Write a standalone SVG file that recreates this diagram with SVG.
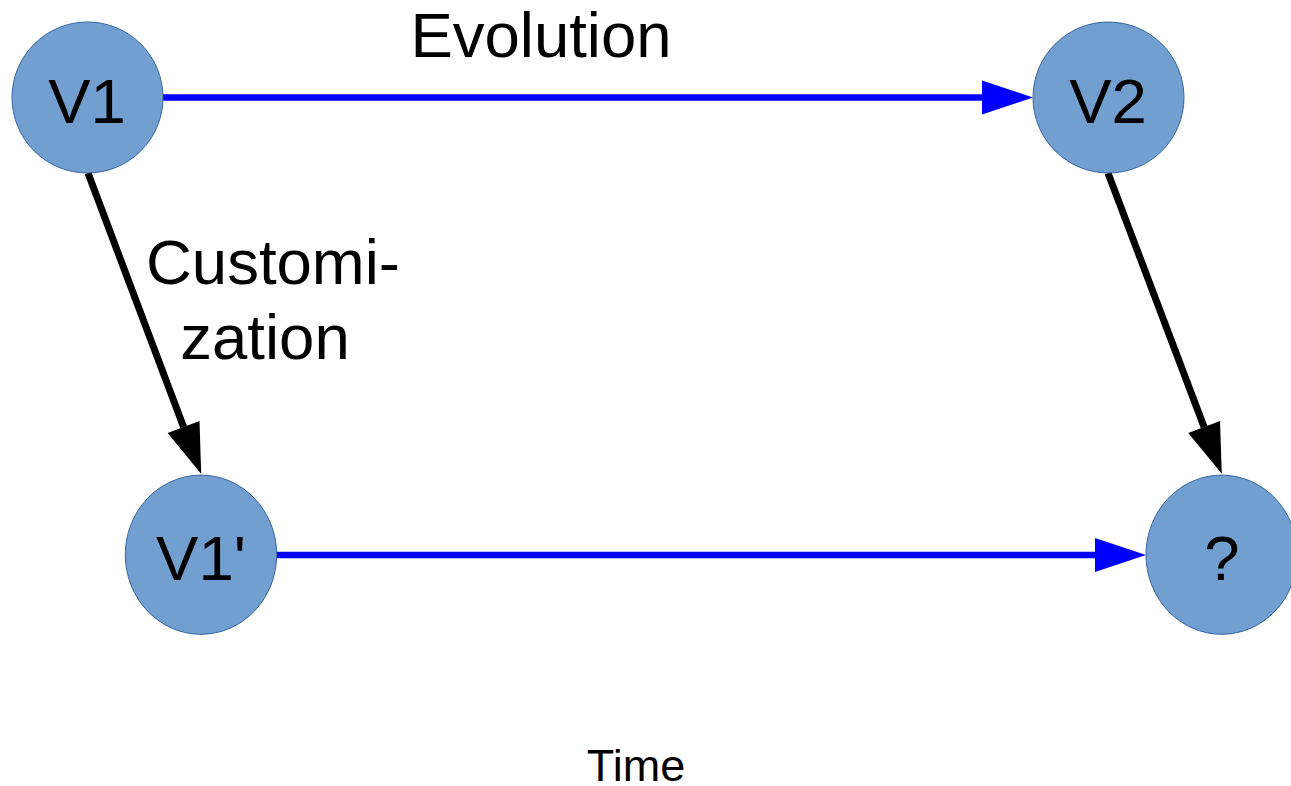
<svg xmlns="http://www.w3.org/2000/svg" width="1291" height="786" viewBox="0 0 1291 786">
<style>
.node{fill:#729fcf;stroke:#3465a4;stroke-width:1}
.lbl{font-family:"Liberation Sans",Arial,sans-serif;fill:#000;text-anchor:middle}
.big{font-size:63.5px}
.blue{stroke:#0000ff;stroke-width:6.5;fill:none}
.black{stroke:#000;stroke-width:7;fill:none}
</style>
<defs>
<marker id="ab" markerUnits="userSpaceOnUse" markerWidth="52" markerHeight="35" refX="0" refY="17" orient="auto" overflow="visible">
<path d="M0,0 L51,17 L0,34 z" fill="#0000ff"/>
</marker>
<marker id="ak" markerUnits="userSpaceOnUse" markerWidth="52" markerHeight="35" refX="0" refY="17" orient="auto" overflow="visible">
<path d="M0,0 L50,17 L0,34 z" fill="#000"/>
</marker>
</defs>
<rect width="1291" height="786" fill="#fff"/>
<g id="connectors">
<line class="blue" x1="163" y1="97.5" x2="982" y2="97.5" marker-end="url(#ab)"/>
<line class="blue" x1="277" y1="555" x2="1095" y2="555" marker-end="url(#ab)"/>
<line class="black" x1="88" y1="173" x2="183.6" y2="427.1" marker-end="url(#ak)"/>
<line class="black" x1="1108" y1="173" x2="1204.1" y2="427.1" marker-end="url(#ak)"/>
</g>
<g id="node-v1">
<ellipse class="node" cx="87.5" cy="97.5" rx="75.5" ry="75.5"/>
<text class="lbl big" x="87" y="123">V1</text>
</g>
<g id="node-v2">
<ellipse class="node" cx="1108.5" cy="97.5" rx="75.5" ry="75.5"/>
<text class="lbl big" x="1108" y="123">V2</text>
</g>
<g id="node-v1p">
<ellipse class="node" cx="201" cy="554.7" rx="75.7" ry="79.6"/>
<text class="lbl big" x="201" y="580">V1'</text>
</g>
<g id="node-q">
<ellipse class="node" cx="1221.7" cy="554.7" rx="75.7" ry="79.6"/>
<text class="lbl big" x="1222" y="580">?</text>
</g>
<g id="labels">
<text class="lbl big" x="541" y="57">Evolution</text>
<text class="lbl big" x="273" y="284">Customi-</text>
<text class="lbl big" x="265" y="359">zation</text>
<text class="lbl" style="font-size:45px" x="636" y="781">Time</text>
</g>
</svg>
